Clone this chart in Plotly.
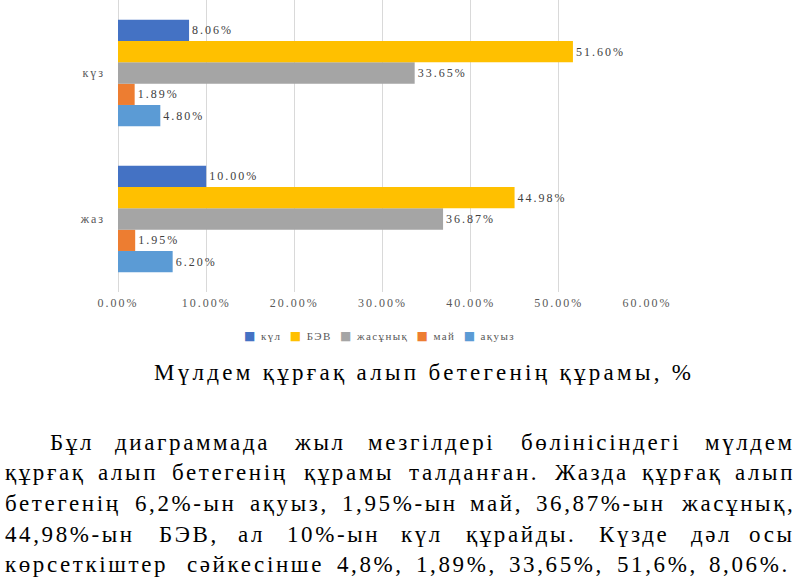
import plotly.graph_objects as go

# ---------------- data ----------------
categories = ["жаз", "күз"]
series_names = ["ақуыз", "май", "жасұнық", "БЭВ", "күл"]
akuyz = [6.20, 4.80]
mai = [1.95, 1.89]
zhasunyk = [36.87, 33.65]
bev = [44.98, 51.60]
kul = [10.00, 8.06]
series_values = [akuyz, mai, zhasunyk, bev, kul]

tick_vals = [0, 10, 20, 30, 40, 50, 60]
tick_text = ["0.00%", "10.00%", "20.00%", "30.00%", "40.00%", "50.00%", "60.00%"]

caption = "Мүлдем құрғақ алып бетегенің құрамы, %"
paragraph_lines = [
    "Бұл диаграммада жыл мезгілдері бөлінісіндегі мүлдем",
    "құрғақ алып бетегенің құрамы талданған. Жазда құрғақ алып",
    "бетегенің 6,2%-ын ақуыз, 1,95%-ын май, 36,87%-ын жасұнық,",
    "44,98%-ын БЭВ, ал 10%-ын күл құрайды. Күзде дәл осы",
    "көрсеткіштер сәйкесінше 4,8%, 1,89%, 33,65%, 51,6%, 8,06%.",
]

# ---------------- style / layout ----------------
W, H = 800, 577
colors = {"ақуыз": "#5B9BD5", "май": "#ED7D31", "жасұнық": "#A5A5A5",
          "БЭВ": "#FFC000", "күл": "#4472C4"}
SERIF = "Liberation Serif, Times New Roman, serif"
line_left_px = [48, 3, 3, 3, 3]
line_right_px = [797, 797, 797, 797, 792]
line_y_px = [442, 472, 503, 534, 564]


def ls(text, px):
    return '<span style="letter-spacing:%.1fpx">%s</span>' % (px, text)


def X(px):
    return px / W


def Y(py):
    return 1 - py / H


fig = go.Figure()
for name, vals in zip(series_names, series_values):
    fig.add_trace(go.Bar(
        y=categories, x=vals, orientation="h",
        name=name,
        marker=dict(color=colors[name], line=dict(width=0)),
        text=[ls("%.2f%%" % v, 2.0) for v in vals],
        textposition="outside",
        textfont=dict(family=SERIF, size=12, color="#404040"),
        cliponaxis=False,
        hoverinfo="skip",
        showlegend=False,
    ))

fig.update_layout(
    width=W, height=H,
    margin=dict(l=0, r=0, t=0, b=0, autoexpand=False),
    paper_bgcolor="white", plot_bgcolor="white",
    barmode="group", bargap=0.27, bargroupgap=0,
    font=dict(family=SERIF, color="#595959"),
    showlegend=False,
    xaxis=dict(domain=[X(118), X(647)], range=[0, 60], automargin=False,
               tickvals=tick_vals, ticktext=[ls(t, 2.0) for t in tick_text],
               showgrid=True, gridcolor="#D9D9D9", gridwidth=1,
               zeroline=True, zerolinecolor="#D9D9D9", zerolinewidth=1,
               showline=False, ticks="", ticklabelstandoff=2,
               tickfont=dict(family=SERIF, size=12, color="#595959")),
    yaxis=dict(domain=[Y(292), 1], categoryorder="array", categoryarray=categories,
               automargin=False,
               tickvals=categories, ticktext=[ls(c, 2.0) for c in categories],
               showgrid=False, zeroline=False, showline=False, ticks="",
               ticklabelstandoff=12,
               tickfont=dict(family=SERIF, size=12, color="#595959")),
)

annotations = []
# legend (built from the series names and colours, top-to-bottom order)
legend_parts = []
for name in reversed(series_names):
    legend_parts.append('<span style="color:%s;font-family:DejaVu Sans;font-size:12px">■</span> %s'
                        % (colors[name], name))
annotations.append(dict(
    text=ls("  ".join(legend_parts), 1.4), x=X(379), y=Y(336),
    xref="paper", yref="paper", xanchor="center", yanchor="middle",
    showarrow=False, font=dict(family=SERIF, size=11, color="#595959")))

# caption
annotations.append(dict(
    text=ls(caption, 3.3), x=X(424), y=Y(372), xref="paper", yref="paper",
    xanchor="center", yanchor="middle", showarrow=False,
    font=dict(family=SERIF, size=23, color="#000000")))

# justified paragraph: words placed individually (approximate Times glyph widths)
FS, LS = 23, 2.6
GLYPH = {
    "а": 444, "б": 500, "в": 472, "г": 410, "д": 509, "е": 444, "ж": 691, "з": 395,
    "и": 535, "й": 535, "к": 486, "л": 499, "м": 633, "н": 535, "о": 500, "п": 535,
    "р": 500, "с": 444, "т": 437, "у": 500, "ш": 770, "ы": 672, "ә": 444, "ғ": 410,
    "қ": 486, "ң": 535, "ө": 500, "ұ": 500, "ү": 500, "і": 278, "Б": 556, "Ж": 896,
    "К": 667, "Э": 660, "В": 667, "%": 833, ",": 250, ".": 250, "-": 333,
}


def word_w(wd):
    return sum(FS * 1.08 * GLYPH.get(c, 500) / 1000 + LS for c in wd) - LS


for i, line in enumerate(paragraph_lines):
    words = line.split(" ")
    x0, x1 = line_left_px[i], line_right_px[i]
    widths = [word_w(w) for w in words]
    gap = (x1 - x0 - sum(widths)) / (len(words) - 1)
    x = x0
    for j, (wd, w) in enumerate(zip(words, widths)):
        if j == 0:
            xa, xp = "left", x0
        elif j == len(words) - 1:
            xa, xp = "right", x1
        else:
            xa, xp = "center", x + w / 2
        annotations.append(dict(
            text=ls(wd, LS), x=X(xp), y=Y(line_y_px[i]), xref="paper", yref="paper",
            xanchor=xa, yanchor="middle", showarrow=False,
            font=dict(family=SERIF, size=FS, color="#000000")))
        x += w + gap

fig.update_layout(annotations=annotations)
fig.write_html("out.html", config={"displayModeBar": False},
               post_script="document.body.style.margin='0';document.body.style.padding='0';")
